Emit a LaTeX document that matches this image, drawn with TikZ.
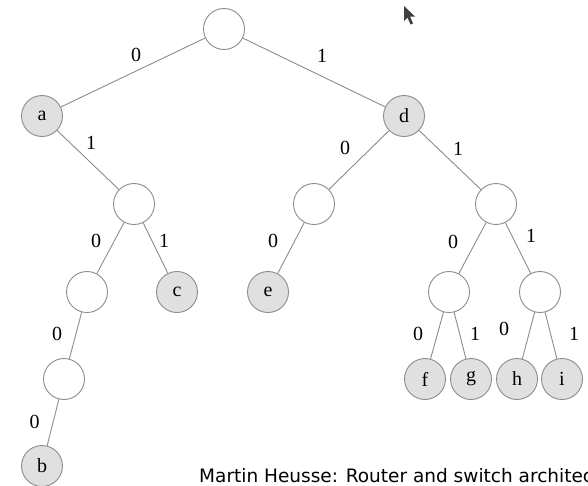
\documentclass[tikz,border=0pt]{standalone}
\usepackage{fontspec}
\setmainfont{Liberation Serif}
\newfontfamily\capfont{DejaVu Sans}
\begin{document}
\begin{tikzpicture}[x=1pt,y=-1pt,
  tnode/.style={circle,draw=black!45,line width=0.9pt,minimum size=41pt,inner sep=0pt,fill=white,font=\fontsize{20}{24}\selectfont},
  leaf/.style={tnode,fill=black!12},
  edge/.style={draw=black!45,line width=0.9pt},
  lbl/.style={font=\fontsize{20}{24}\selectfont,inner sep=0pt}]
\clip (0,0) rectangle (588,485);
\fill[white] (0,0) rectangle (588,485);
% nodes
\node[tnode] (root) at (224,29) {};
\node[leaf] (a) at (42,116) {a};
\node[leaf] (d) at (404,116) {d};
\node[tnode] (n1) at (134,204) {};
\node[tnode] (n2) at (314,204) {};
\node[tnode] (n3) at (496,204) {};
\node[tnode] (n4) at (87,292) {};
\node[leaf] (c) at (177,292) {c};
\node[leaf] (e) at (268,292) {e};
\node[tnode] (n5) at (449,292) {};
\node[tnode] (n6) at (540,292) {};
\node[tnode] (n7) at (64,379) {};
\node[leaf] (b) at (42,466) {b};
\node[leaf] (f) at (425,379) {f};
\node[leaf] (g) at (471,379) {g};
\node[leaf] (h) at (517,379) {h};
\node[leaf] (i) at (562,379) {i};
% edges
\path[edge] (root) -- (a);
\path[edge] (root) -- (d);
\path[edge] (a) -- (n1);
\path[edge] (d) -- (n2);
\path[edge] (d) -- (n3);
\path[edge] (n1) -- (n4);
\path[edge] (n1) -- (c);
\path[edge] (n2) -- (e);
\path[edge] (n3) -- (n5);
\path[edge] (n3) -- (n6);
\path[edge] (n4) -- (n7);
\path[edge] (n7) -- (b);
\path[edge] (n5) -- (f);
\path[edge] (n5) -- (g);
\path[edge] (n6) -- (h);
\path[edge] (n6) -- (i);
% labels
\node[lbl] (l1) at (136,55) {0};
\node[lbl] (l2) at (322,56) {1};
\node[lbl] (l3) at (91,143) {1};
\node[lbl] (l4) at (345,148) {0};
\node[lbl] (l5) at (458,149) {1};
\node[lbl] (l6) at (96,241) {0};
\node[lbl] (l7) at (164,241) {1};
\node[lbl] (l8) at (273,241) {0};
\node[lbl] (l9) at (453,242) {0};
\node[lbl] (l10) at (531,236) {1};
\node[lbl] (l11) at (57,334) {0};
\node[lbl] (l12) at (34.5,422) {0};
\node[lbl] (l13) at (418,334) {0};
\node[lbl] (l14) at (475,334) {1};
\node[lbl] (l15) at (504,329) {0};
\node[lbl] (l16) at (574,334) {1};
% cursor
\fill[black!75] (404,6) -- (404,21) -- (407.5,17.5) -- (410.5,24.5) -- (413,23.5) -- (410,16.5) -- (415,16.5) -- cycle;
% caption
\node[anchor=west,inner sep=0pt,font=\capfont\fontsize{18.5}{22}\selectfont] (cap) at (199,476) {Martin Heusse: Router and switch architecture};
\end{tikzpicture}
\end{document}
